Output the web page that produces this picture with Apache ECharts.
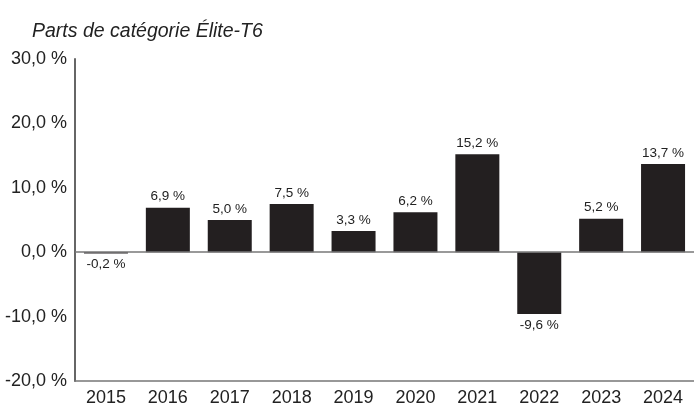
<!DOCTYPE html>
<html>
<head>
<meta charset="utf-8">
<script src="https://cdn.jsdelivr.net/npm/echarts@6/dist/echarts.min.js"></script>
<style>
html,body{margin:0;padding:0;background:#fff;}
#one{width:694px;height:415px;}
</style>
</head>
<body>
<div id="one"></div>
<script>
var years = ['2015','2016','2017','2018','2019','2020','2021','2022','2023','2024'];
var parts = [-0.2, 6.9, 5.0, 7.5, 3.3, 6.2, 15.2, -9.6, 5.2, 13.7];
var yTicks = [-20, -10, 0, 10, 20, 30];

var font = "'Liberation Sans Narrow', 'Arial Narrow', 'Liberation Sans', sans-serif";
function fr(v, d) { return v.toFixed(d).replace('.', ',') + ' %'; }

(function(){
	var myChart = echarts.init(document.getElementById('one'));
	myChart.setOption({
		animation: false,
		// titre en italique
		title: {
			text: 'Parts de catégorie Élite-T6',
			left: 27, top: 17,
			textStyle: { fontFamily: font, fontStyle: 'italic', fontWeight: 'normal', fontSize: 19.5, color: '#222' }
		},
		grid: { left: 75, right: 0, top: 59, bottom: 34 },
		xAxis: {
			type: 'category',
			data: years,
			axisLine: { onZero: false, lineStyle: { color: '#777', width: 1.5 } },
			axisTick: { show: false },
			axisLabel: { interval: 0, margin: 8, fontFamily: font, fontSize: 18, color: '#222' }
		},
		yAxis: {
			type: 'value',
			min: yTicks[0], max: yTicks[yTicks.length - 1], interval: 10,
			axisLine: { show: true, lineStyle: { color: '#666', width: 2 } },
			axisTick: { show: false },
			splitLine: { show: false },
			axisLabel: { margin: 8, fontFamily: font, fontSize: 18, color: '#222',
				formatter: function(v){ return fr(v, 1); } }
		},
		series: [{
			type: 'bar',
			data: parts.map(function(v){
				return { value: v, label: { position: v < 0 ? 'bottom' : 'top' } };
			}),
			barWidth: 44,
			itemStyle: { color: '#231f20' },
			label: {
				show: true, distance: 4,
				fontFamily: font, fontSize: 13.5, color: '#222',
				formatter: function(p){ return fr(p.value, 1); }
			},
			markLine: {
				silent: true, symbol: 'none',
				label: { show: false },
				lineStyle: { color: '#777', width: 1.5, type: 'solid' },
				data: [{ yAxis: 0 }]
			}
		}]
	});
})();
</script>
</body>
</html>
